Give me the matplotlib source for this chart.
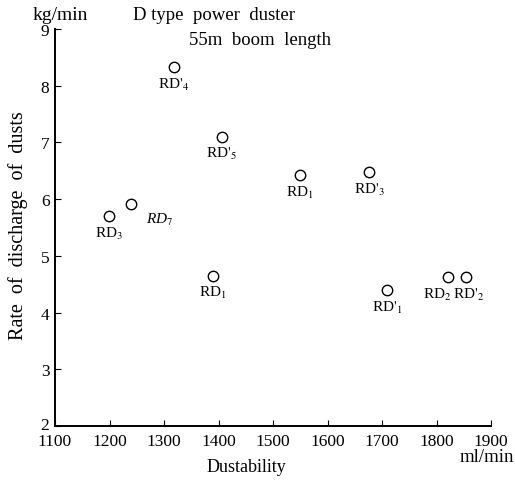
import matplotlib
matplotlib.use("Agg")
import matplotlib.pyplot as plt
import matplotlib.transforms as mtransforms

plt.rcParams['font.family'] = ['Liberation Serif', 'DejaVu Serif']
plt.rcParams['mathtext.fontset'] = 'stix'

labels = ["RD$'_4$", "RD$'_5$", "RD$_1$", "RD$'_3$", "RD$_2$", "RD$'_2$",
          "RD$'_1$", "RD$_3$", "RD$_7$", "RD$_1$"]
dustability = [1318, 1406, 1550, 1676, 1821, 1854, 1709, 1199, 1239, 1389]
discharge = [8.33, 7.1, 6.42, 6.47, 4.62, 4.62, 4.4, 5.7, 5.92, 4.65]
# label offsets in points (dx, dy) relative to each point
offsets = [(0, -12), (0, -12), (0, -12), (0, -12), (-8, -12), (2, -12),
           (0, -12), (0, -12), (21, -11), (0, -12)]
italic = [False, False, False, False, False, False, False, False, True, False]

xticks = [1100, 1200, 1300, 1400, 1500, 1600, 1700, 1800, 1900]
yticks = [2, 3, 4, 5, 6, 7, 8, 9]

fig = plt.figure(figsize=(5.15, 4.81), dpi=100)
ax = fig.add_axes([55/515, 1-427/481, (491-55)/515, (427-30)/481])

ax.plot(dustability, discharge, linestyle='none', marker='o', markersize=7.5,
        markerfacecolor='white', markeredgecolor='black', markeredgewidth=1.0)
for x, y, t, (dx, dy), it in zip(dustability, discharge, labels, offsets, italic):
    ax.annotate(t, (x, y), xytext=(dx, dy), textcoords='offset points',
                ha='center', va='center', fontsize=11,
                fontstyle='italic' if it else 'normal')

ax.set_xlim(1100, 1900)
ax.set_ylim(2, 9)
ax.set_xticks(xticks)
ax.set_yticks(yticks)
ax.tick_params(direction='in', length=4, width=0.8, labelsize=12.5)
ax.tick_params(axis='x', pad=5)
ax.tick_params(axis='y', pad=4)
for s in ['top', 'right']:
    ax.spines[s].set_visible(False)
for s in ['left', 'bottom']:
    ax.spines[s].set_linewidth(1.4)

# nudge the lowest y tick label up slightly so it clears "1100"
fig.canvas.draw()
ylab0 = ax.get_yticklabels()[0]
ylab0.set_transform(ylab0.get_transform() +
                    mtransforms.ScaledTranslation(0, 3/100, fig.dpi_scale_trans))

fig.text(246/515, 1-468/481, "Dustability", fontsize=13, ha='center', va='center')
fig.text(18/515, 1-226/481, "Rate  of  discharge  of  dusts", fontsize=14.5,
         ha='center', va='center', rotation=90)
fig.text(60/515, 1-16/481, "kg/min", fontsize=14, ha='center', va='center')
fig.text(487/515, 1-458/481, "ml/min", fontsize=13.5, ha='center', va='center')
fig.text(214/515, 1-16/481, "D type  power  duster", fontsize=13.5, ha='center', va='center')
fig.text(260/515, 1-41/481, "55m  boom  length", fontsize=13.5, ha='center', va='center')

fig.savefig("out.png", dpi=100)
